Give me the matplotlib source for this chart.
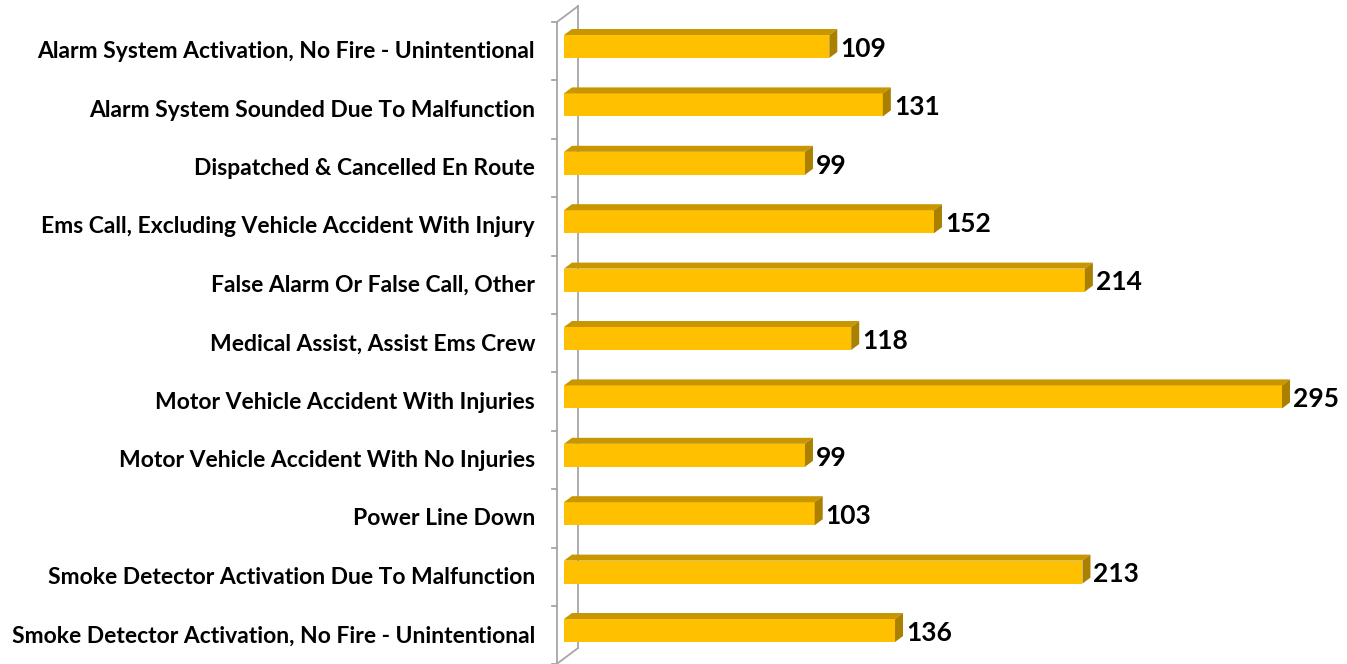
import matplotlib.pyplot as plt
from matplotlib.patches import Polygon

categories = [
    "Alarm System Activation, No Fire - Unintentional",
    "Alarm System Sounded Due To Malfunction",
    "Dispatched & Cancelled En Route",
    "Ems Call, Excluding Vehicle Accident With Injury",
    "False Alarm Or False Call, Other",
    "Medical Assist, Assist Ems Crew",
    "Motor Vehicle Accident With Injuries",
    "Motor Vehicle Accident With No Injuries",
    "Power Line Down",
    "Smoke Detector Activation Due To Malfunction",
    "Smoke Detector Activation, No Fire - Unintentional",
]
counts = [109, 131, 99, 152, 214, 118, 295, 99, 103, 213, 136]

W, H = 1347, 664
ppu = 2.434          # pixels per count
xmax = 320
left_px = 564
top_px = 17.3
row_px = 58.4

fig = plt.figure(figsize=(W / 100, H / 100), dpi=100)
ax = fig.add_axes([left_px / W, 1 - (top_px + 11 * row_px) / H,
                   xmax * ppu / W, 11 * row_px / H])
ax.set_xlim(0, xmax)
ax.set_ylim(10.5, -0.5)
ax.axis("off")

font = "Lato"
front = "#FFC000"
topc = "#C79600"
sidec = "#A98000"
bh = 23 / row_px
dx = 8 / ppu
dy = 6 / row_px

# 3d-ish bars: front face, top face and end face
for i, v in enumerate(counts):
    y0, y1 = i - bh / 2, i + bh / 2
    ax.barh(i, v, height=bh, color=front, edgecolor="none", zorder=3)
    ax.add_patch(Polygon([(0, y0), (v, y0), (v + dx, y0 - dy), (dx, y0 - dy)],
                         closed=True, facecolor=topc, edgecolor="none", zorder=3))
    ax.add_patch(Polygon([(v, y0), (v + dx, y0 - dy), (v + dx, y1 - dy), (v, y1)],
                         closed=True, facecolor=sidec, edgecolor="none", zorder=3))
    ax.text(v + dx + 1.2, i + 0.04, str(v), ha="left", va="center",
            fontsize=19, fontweight="bold", family=font, zorder=4)
    ax.text(-11.9, i + 0.09, categories[i], ha="right", va="center",
            fontsize=16.5, fontweight="bold", family=font)

# wall / axis frame
wall = "#A6A6A6"
fx = -7 / ppu
bx = 14 / ppu
ftop, fbot = -0.42, 10.57
btop, bbot = -0.69, 10.30
kw = dict(color=wall, lw=1.3, clip_on=False, zorder=1)
ax.plot([fx, fx], [ftop, fbot], **kw)
ax.plot([bx, bx], [btop, bbot], **kw)
ax.plot([fx, bx], [ftop, btop], **kw)
ax.plot([fx, bx], [fbot, bbot], **kw)
for k in range(12):
    ax.plot([fx - 5 / ppu, fx], [ftop + k, ftop + k], **kw)

fig.savefig("out.png", dpi=100)
